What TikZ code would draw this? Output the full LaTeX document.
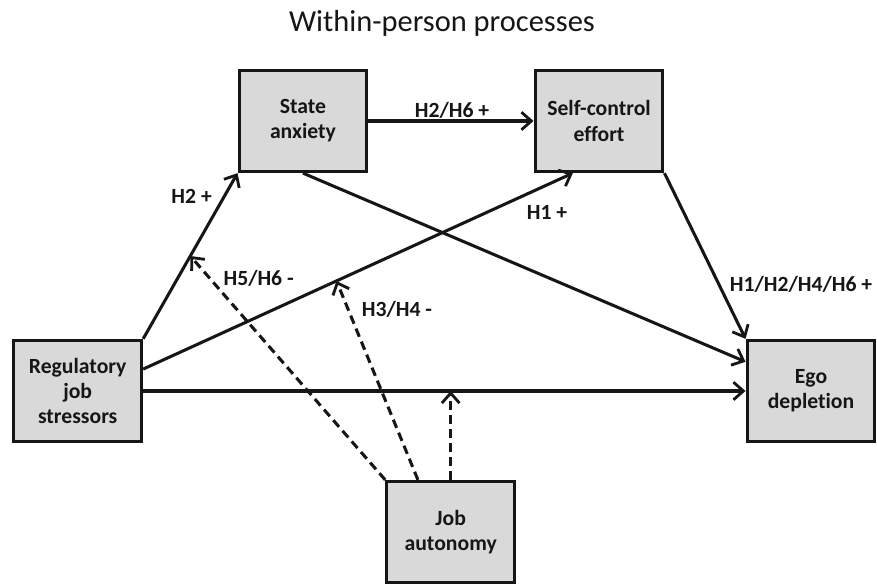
\documentclass[tikz,border=0pt]{standalone}
\usepackage{fontspec}
\setmainfont[Ligatures=NoCommon]{Carlito}
\usetikzlibrary{arrows.meta,calc}
\definecolor{boxgray}{RGB}{217,217,217}
\definecolor{inkblack}{RGB}{22,22,22}

\begin{document}
\begin{tikzpicture}[
  var/.style={draw=inkblack,fill=boxgray,line width=2.8pt,minimum width=3.83cm,minimum height=3.03cm,
    align=center,inner sep=2pt,text=inkblack,font=\fontsize{18.5}{21.5}\selectfont\bfseries},
  hyp/.style={text=inkblack,font=\fontsize{18.5}{21.5}\selectfont\bfseries},
  effect/.style={draw=inkblack,line width=2.6pt,-{Straight Barb[length=8.5pt,width=15pt,line width=2.4pt]}},
  moderate/.style={effect,dash pattern=on 7.5pt off 4.5pt}
]

\clip (0,0) rectangle (26.31,17.49); %page

%title
\node[anchor=base,text=inkblack,font=\fontsize{26}{30}\selectfont] (title) at (13.26,16.53) {Within-person processes};

%variables
\node[var] (sa)  at ( 9.09, 13.86) {State\\anxiety};
\node[var] (sce) at (17.97, 13.86) {Self-control\\effort};
\node[var] (rjs) at ( 2.33,  5.76) {Regulatory\\job\\stressors};
\node[var] (ego) at (24.33,  5.76) {Ego\\depletion};
\node[var] (ja)  at (13.52,  1.53) {Job\\autonomy};

%points on the box edges
\coordinate (rjsout) at ($(rjs.north east)!0.29!(rjs.south east)$);
\coordinate (scein)  at ($(sce.south west)!0.30!(sce.south east)$);
\coordinate (egoin)  at ($(ego.north west)!0.22!(ego.south west)$);
\coordinate (jaout)  at ($(ja.north west)!0.25!(ja.north east)$);

%main effects
\draw[effect] (rjs.north east) -- (sa.south west);
\draw[effect] (sa.east) -- (sce.west);
\draw[effect] (rjsout) -- (scein);
\draw[effect] (sce.south east) -- (ego.north west);
\draw[effect] (sa.south) -- (egoin);
\draw[effect] (rjs.east) -- (ego.west);

%moderation by job autonomy
\coordinate (m1) at ($(rjs.north east)!0.5!(sa.south west)$);
\coordinate (m2) at ($(rjsout)!0.45!(scein)$);
\coordinate (m3) at (rjs.east -| ja.north);
\draw[moderate] (ja.north west) -- (m1);
\draw[moderate] (jaout) -- (m2);
\draw[moderate] (ja.north) -- (m3);

%hypotheses
\node[hyp] (h2)     at ( 5.75, 11.60) {H2 +};
\node[hyp] (h2h6)   at (13.56, 14.19) {H2/H6 +};
\node[hyp] (h1)     at (16.41, 11.12) {H1 +};
\node[hyp] (h5h6)   at ( 7.76,  9.15) {H5/H6 -};
\node[hyp] (h3h4)   at (11.91,  8.22) {H3/H4 -};
\node[hyp] (h1to6)  at (24.03,  8.97) {H1/H2/H4/H6 +};

\end{tikzpicture}
\end{document}
